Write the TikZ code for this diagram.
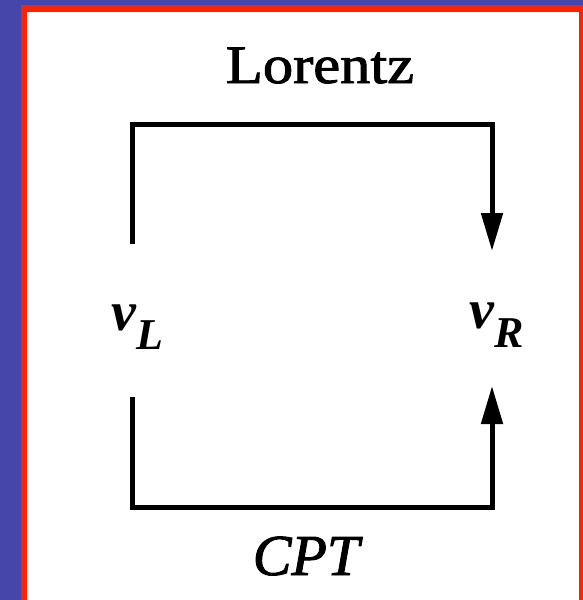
\documentclass[tikz,border=0pt]{standalone}
\usepackage{fontspec}
\setmainfont{Liberation Serif}
\newfontfamily\heavyserif[FakeBold=1.6]{Liberation Serif}
\usetikzlibrary{arrows.meta}
\definecolor{bgblue}{RGB}{70,70,170}
\definecolor{bordred}{RGB}{255,34,0}
\tikzset{
  conn/.style={line width=5pt, line join=miter, -{Triangle[length=38pt,width=21pt]}},
  nu/.style={inner sep=0pt, anchor=base west},
}
\newcommand{\nusym}[1]{{\fontsize{56}{56}\selectfont\bfseries\itshape ν\raisebox{-19pt}{\fontsize{44}{44}\selectfont #1}}}
\begin{document}
\begin{tikzpicture}[x=1pt,y=-1pt]
  \useasboundingbox (0,0) rectangle (583,600);
  \fill[bgblue] (0,0) rectangle (583,600);
  \fill[bordred] (21,5) rectangle (583,600);
  \fill[white] (27,12) rectangle (579,600);

  \node[inner sep=0pt, anchor=base, xscale=1.12] (lor) at (320,83) {\heavyserif\fontsize{54}{54}\selectfont Lorentz};
  \node[inner sep=0pt, anchor=base] (cpt) at (306,575) {\heavyserif\fontsize{58}{58}\selectfont\itshape CPT};

  \node[nu] (nuL) at (111,330) {\nusym{L}};
  \node[nu] (nuR) at (469,328) {\nusym{R}};

  \coordinate (a1) at (132.5,244);
  \coordinate (b1) at (492,251);
  \coordinate (a2) at (132.5,397);
  \coordinate (b2) at (492,386);

  \draw[conn] (a1) -- (a1 |- 0,124.5) -- (b1 |- 0,124.5) -- (b1);
  \draw[conn] (a2) -- (a2 |- 0,507.5) -- (b2 |- 0,507.5) -- (b2);
\end{tikzpicture}
\end{document}
